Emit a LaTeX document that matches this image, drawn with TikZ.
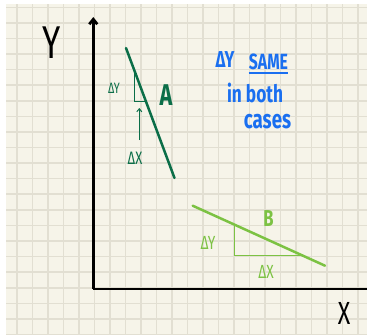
\documentclass[tikz,border=0pt]{standalone}
\usepackage{fontspec}
\newfontfamily\hand[FakeStretch=0.72]{Fira Sans}
\usetikzlibrary{arrows.meta}
\definecolor{paper}{HTML}{F6F4E9}
\definecolor{gridc}{HTML}{E2DFD2}
\definecolor{darkg}{HTML}{0B6E48}
\definecolor{lightg}{HTML}{7CC243}
\definecolor{blueink}{HTML}{1A6FF0}
\tikzset{
  gridline/.style={gridc,line width=1.6pt},
  axis/.style={black,line width=2.8pt},
  slopeline/.style={line width=2.5pt,line cap=round},
  tri/.style={line width=1pt},
  lbl/.style={inner sep=0pt,font=\hand\fontsize{#1}{#1}\selectfont},
  blbl/.style={inner sep=0pt,font=\hand\bfseries\fontsize{#1}{#1}\selectfont},
}
\begin{document}
\begin{tikzpicture}[x=1pt,y=-1pt]
\useasboundingbox (0,0) rectangle (367,335);
\fill[white] (0,0) rectangle (367,335);
\fill[paper] (6,4) rectangle (367,335);
\foreach \i in {0,...,22} \draw[gridline] ({17+15.5*\i},4) -- ({17+15.5*\i},335);
\foreach \j in {0,...,21} \draw[gridline] (6,{7.3+15.58*\j}) -- (367,{7.3+15.58*\j});
% axes
\coordinate (O) at (93.3,289);
\coordinate (Ytop) at (93.3,17);
\coordinate (Xend) at (367,289);
\draw[axis,-{Straight Barb[length=5pt,width=8pt]}] (O) -- (Ytop);
\draw[axis] (O) -- (Xend);
\node[lbl=46] (ylab) at (52,43) {Y};
\node[lbl=32] (xlab) at (344,313) {X};
% line A
\coordinate (a1) at (126,48);
\coordinate (a2) at (174.5,178);
\draw[slopeline,darkg] (a1) -- (a2);
\coordinate (ta1) at (134.3,71);
\coordinate (ta2) at (134.3,101);
\coordinate (ta3) at (145.5,101);
\draw[tri,darkg] (ta1) -- (ta2) -- (ta3);
\node[lbl=15,text=darkg] (dya) at (114,88) {ΔY};
\node[lbl=18,text=darkg] (dxa) at (135,158) {ΔX};
\coordinate (arrA0) at (139.3,140);
\coordinate (arrA) at (139.3,108);
\draw[darkg,line width=1pt,-{Straight Barb[length=3pt,width=5pt]}] (arrA0) -- (arrA);
\node[blbl=30,text=darkg] (labA) at (166,95.5) {A};
% line B
\coordinate (b1) at (192.7,205.7);
\coordinate (b2) at (325,265.7);
\draw[slopeline,lightg] (b1) -- (b2);
\coordinate (tb1) at (234.3,224.6);
\coordinate (tb2) at (234.3,255.7);
\coordinate (tb3) at (302.5,255.7);
\draw[tri,lightg] (tb1) -- (tb2) -- (tb3);
\node[lbl=19,text=lightg] (dyb) at (208,242.5) {ΔY};
\node[lbl=19,text=lightg] (dxb) at (266,271.5) {ΔX};
\node[blbl=23,text=lightg] (labB) at (268.5,218.5) {B};
% blue note
\node[blbl=23,text=blueink] (n1) at (225,60) {ΔY};
\node[blbl=22,text=blueink] (n2) at (268.5,62) {SAME};
\draw[blueink,line width=1.5pt] ([yshift=-3pt]n2.south west) -- ([yshift=-3pt]n2.south east);
\node[blbl=24,text=blueink] (n3) at (255,93) {in both};
\node[blbl=26,text=blueink] (n4) at (267.5,122) {cases};
\end{tikzpicture}
\end{document}
